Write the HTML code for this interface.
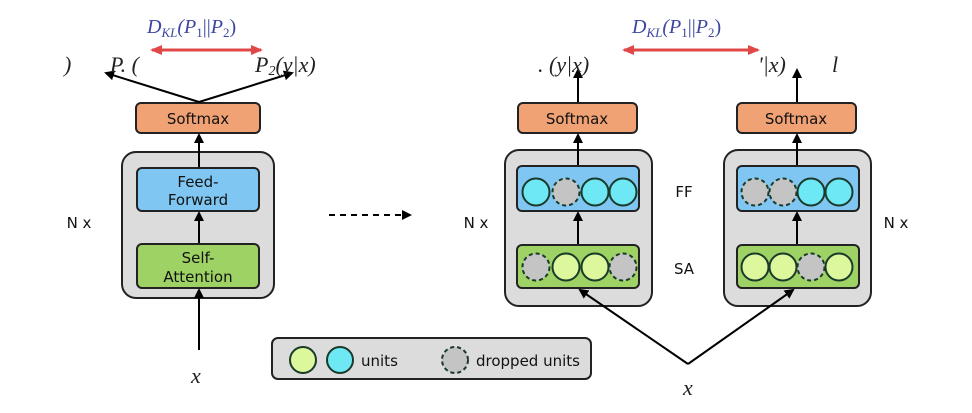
<!DOCTYPE html>
<html><head><meta charset="utf-8"><style>
html,body{margin:0;padding:0;background:#fff}
svg{display:block}
.s{font-family:"DejaVu Sans","Liberation Sans",sans-serif;}
.m{font-family:"Liberation Serif",serif;font-style:italic}
</style></head><body>
<svg width="972" height="413" viewBox="0 0 972 413" xmlns="http://www.w3.org/2000/svg">
<defs>
<marker id="a" markerWidth="10" markerHeight="10" refX="8" refY="5" orient="auto" markerUnits="userSpaceOnUse"><path d="M0,0 L10,5 L0,10 z" fill="#000"/></marker>
<marker id="r" markerWidth="12" markerHeight="10" refX="10" refY="5" orient="auto" markerUnits="userSpaceOnUse"><path d="M0,0 L12,5 L0,10 z" fill="#e04848"/></marker>
<marker id="rs" markerWidth="12" markerHeight="10" refX="2" refY="5" orient="auto" markerUnits="userSpaceOnUse"><path d="M12,0 L0,5 L12,10 z" fill="#e04848"/></marker>
</defs>
<g stroke="#222" stroke-width="2">
<!-- left -->
<rect x="122" y="152" width="152" height="146" rx="14" fill="#dcdcdc"/>
<rect x="136" y="103" width="124" height="30" rx="5" fill="#f0a274"/>
<rect x="137" y="168" width="122" height="43" rx="5" fill="#7fc6f2"/>
<rect x="137" y="244" width="122" height="44" rx="5" fill="#9ed264"/>
<!-- right 1 -->
<rect x="505" y="150" width="147" height="156" rx="14" fill="#dcdcdc"/>
<rect x="518" y="103" width="119" height="30" rx="5" fill="#f0a274"/>
<rect x="517" y="166" width="122" height="45" rx="5" fill="#7fc6f2"/>
<rect x="517" y="245" width="122" height="43" rx="5" fill="#9ed264"/>
<!-- right 2 -->
<rect x="724" y="150" width="147" height="156" rx="14" fill="#dcdcdc"/>
<rect x="737" y="103" width="119" height="30" rx="5" fill="#f0a274"/>
<rect x="737" y="166" width="122" height="45" rx="5" fill="#7fc6f2"/>
<rect x="737" y="245" width="122" height="43" rx="5" fill="#9ed264"/>
<!-- legend -->
<rect x="272" y="338" width="319" height="41" rx="6" fill="#dcdcdc"/>
</g>
<g stroke="#1a3a2a" stroke-width="2">
<circle cx="536" cy="192" r="13.5" fill="#6ee8f4"/>
<circle cx="566" cy="192" r="13.5" fill="#c4c4c4" stroke-dasharray="4 3"/>
<circle cx="595" cy="192" r="13.5" fill="#6ee8f4"/>
<circle cx="623" cy="192" r="13.5" fill="#6ee8f4"/>
<circle cx="536" cy="267" r="13.5" fill="#c4c4c4" stroke-dasharray="4 3"/>
<circle cx="566" cy="267" r="13.5" fill="#dcf79c"/>
<circle cx="595" cy="267" r="13.5" fill="#dcf79c"/>
<circle cx="623" cy="267" r="13.5" fill="#c4c4c4" stroke-dasharray="4 3"/>
<circle cx="755" cy="192" r="13.5" fill="#c4c4c4" stroke-dasharray="4 3"/>
<circle cx="783" cy="192" r="13.5" fill="#c4c4c4" stroke-dasharray="4 3"/>
<circle cx="811" cy="192" r="13.5" fill="#6ee8f4"/>
<circle cx="839" cy="192" r="13.5" fill="#6ee8f4"/>
<circle cx="755" cy="267" r="13.5" fill="#dcf79c"/>
<circle cx="783" cy="267" r="13.5" fill="#dcf79c"/>
<circle cx="811" cy="267" r="13.5" fill="#c4c4c4" stroke-dasharray="4 3"/>
<circle cx="839" cy="267" r="13.5" fill="#dcf79c"/>
<circle cx="303" cy="360" r="13" fill="#dcf79c"/>
<circle cx="340" cy="360" r="13" fill="#6ee8f4"/>
<circle cx="455" cy="360" r="13" fill="#c4c4c4" stroke-dasharray="4 3"/>
</g>
<g stroke="#000" stroke-width="2" fill="none" marker-end="url(#a)">
<line x1="199" y1="350" x2="199" y2="290"/>
<line x1="199" y1="243" x2="199" y2="213"/>
<line x1="199" y1="167" x2="199" y2="135"/>
<line x1="199" y1="102" x2="106" y2="73"/>
<line x1="199" y1="102" x2="292" y2="73"/>
<line x1="578" y1="244" x2="578" y2="213"/>
<line x1="578" y1="165" x2="578" y2="135"/>
<line x1="578" y1="102" x2="578" y2="70"/>
<line x1="797" y1="244" x2="797" y2="213"/>
<line x1="797" y1="165" x2="797" y2="135"/>
<line x1="797" y1="102" x2="797" y2="70"/>
<line x1="688" y1="364" x2="580" y2="290"/>
<line x1="688" y1="364" x2="793" y2="290"/>
<line x1="329" y1="215" x2="410" y2="215" stroke-dasharray="6 5"/>
</g>
<g stroke="#e04848" stroke-width="3">
<line x1="152" y1="50" x2="261" y2="50" marker-start="url(#rs)" marker-end="url(#r)"/>
<line x1="624" y1="50" x2="758" y2="50" marker-start="url(#rs)" marker-end="url(#r)"/>
</g>
<g class="m" fill="#3c46a0" font-size="20">
<text x="147" y="33">D<tspan font-size="13" dy="4">KL</tspan><tspan dy="-4">(P</tspan><tspan font-size="13" dy="4" font-style="normal">1</tspan><tspan dy="-4" font-style="normal">||</tspan>P<tspan font-size="13" dy="4" font-style="normal">2</tspan><tspan dy="-4" font-style="normal">)</tspan></text>
<text x="632" y="33">D<tspan font-size="13" dy="4">KL</tspan><tspan dy="-4">(P</tspan><tspan font-size="13" dy="4" font-style="normal">1</tspan><tspan dy="-4" font-style="normal">||</tspan>P<tspan font-size="13" dy="4" font-style="normal">2</tspan><tspan dy="-4" font-style="normal">)</tspan></text>
</g>
<g class="m" fill="#222" font-size="22">
<text x="64" y="72">)</text><text x="110" y="72">P. (</text><text x="255" y="72">P<tspan font-size="14" dy="3">2</tspan><tspan dy="-3">(y|x)</tspan></text>
<text x="538" y="72">. (y|x)</text><text x="758" y="72">'|x)</text><text x="832" y="72">l</text>
<text x="191" y="383">x</text>
<text x="683" y="395">x</text>
</g>
<g class="s" fill="#111" font-size="15" text-anchor="middle">
<text x="198" y="124">Softmax</text>
<text x="577" y="124">Softmax</text>
<text x="796" y="124">Softmax</text>
<text x="198" y="187">Feed-</text><text x="198" y="205">Forward</text>
<text x="198" y="263">Self-</text><text x="198" y="282">Attention</text>
<text x="79" y="228">N x</text>
<text x="476" y="228">N x</text>
<text x="896" y="228">N x</text>
<text x="684" y="197">FF</text>
<text x="684" y="274">SA</text>
</g>
<g class="s" fill="#111" font-size="15">
<text x="361" y="366">units</text>
<text x="476" y="366">dropped units</text>
</g>
</svg>
</body></html>
